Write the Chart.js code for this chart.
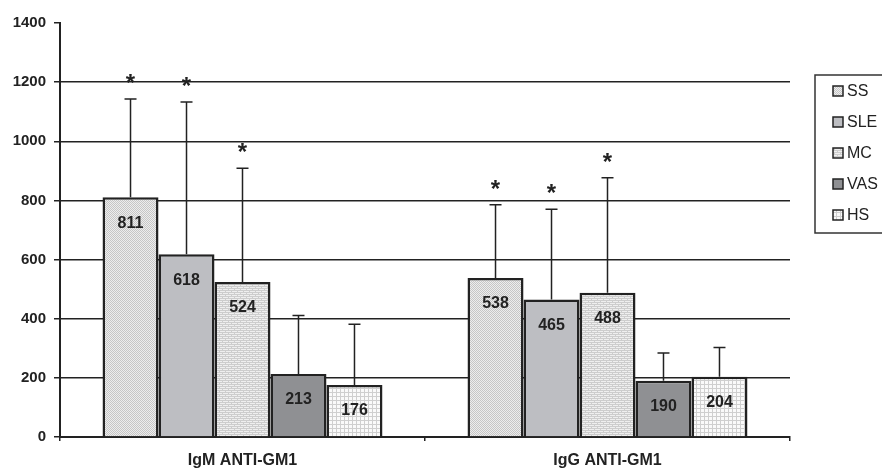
<!DOCTYPE html>
<html>
<head>
<meta charset="utf-8">
<script src="https://cdn.jsdelivr.net/npm/chart.js@4.4.1/dist/chart.umd.min.js"></script>
<style>
  html, body { margin: 0; padding: 0; background: #fff; }
  #wrap { width: 882px; height: 470px; }
</style>
</head>
<body>
<div id="wrap"><canvas id="chart" width="882" height="470"></canvas></div>
<script>
// ---- data ----
const categories = ['IgM ANTI-GM1', 'IgG ANTI-GM1'];
const seriesNames = ['SS', 'SLE', 'MC', 'VAS', 'HS'];

const ssValues  = [811, 538];
const sleValues = [618, 465];
const mcValues  = [524, 488];
const vasValues = [213, 190];
const hsValues  = [176, 204];

// upper error (SD) per series
const ssErr  = [332, 247];
const sleErr = [515, 305];
const mcErr  = [385, 389];
const vasErr = [198, 94];
const hsErr  = [205, 99];

// significance asterisk per series
const ssSig  = [true, true];
const sleSig = [true, true];
const mcSig  = [true, true];
const vasSig = [false, false];
const hsSig  = [false, false];

const yTicks = [0, 200, 400, 600, 800, 1000, 1200, 1400];

const INK = '#222';
const FONT = 'Arial, "Liberation Sans", sans-serif';

// fill patterns similar to the printed hatches
function makePattern(kind) {
  const c = document.createElement('canvas');
  const g = c.getContext('2d');
  if (kind === 'dots') {
    c.width = 2; c.height = 2;
    g.fillStyle = '#ededed'; g.fillRect(0, 0, 2, 2);
    g.fillStyle = '#c6c6c6'; g.fillRect(0, 0, 1, 1); g.fillRect(1, 1, 1, 1);
  } else if (kind === 'brick') {
    c.width = 6; c.height = 4;
    g.fillStyle = '#efefef'; g.fillRect(0, 0, 6, 4);
    g.fillStyle = '#cdcdcd';
    g.fillRect(0, 0, 6, 1); g.fillRect(0, 2, 6, 1);
    g.fillRect(0, 1, 1, 1); g.fillRect(3, 3, 1, 1);
  } else if (kind === 'grid') {
    c.width = 4; c.height = 4;
    g.fillStyle = '#fafafa'; g.fillRect(0, 0, 4, 4);
    g.fillStyle = '#cfcfcf';
    g.fillRect(0, 0, 4, 1); g.fillRect(0, 0, 1, 4);
  }
  return g.createPattern(c, 'repeat');
}

const fills = [makePattern('dots'), '#bdbec2', makePattern('brick'), '#8f9093', makePattern('grid')];
const valueSets = [ssValues, sleValues, mcValues, vasValues, hsValues];
const errSets = [ssErr, sleErr, mcErr, vasErr, hsErr];
const sigSets = [ssSig, sleSig, mcSig, vasSig, hsSig];

const datasets = seriesNames.map((name, i) => ({
  label: name,
  data: valueSets[i],
  err: errSets[i],
  sig: sigSets[i],
  backgroundColor: fills[i],
  borderColor: INK,
  borderWidth: 2.5,
  borderSkipped: 'bottom',
  categoryPercentage: 0.767,
  barPercentage: 1.0
}));

// error bars, asterisks, value labels and boxed legend
const decorPlugin = {
  id: 'decor',
  afterDatasetsDraw(chart) {
    const ctx = chart.ctx;
    const y = chart.scales.y;
    ctx.save();
    chart.data.datasets.forEach((ds, i) => {
      const meta = chart.getDatasetMeta(i);
      meta.data.forEach((bar, j) => {
        const v = ds.data[j];
        const top = y.getPixelForValue(v);
        const errTop = y.getPixelForValue(v + ds.err[j]);
        ctx.strokeStyle = INK;
        ctx.lineWidth = 1.5;
        ctx.beginPath();
        ctx.moveTo(bar.x, top);
        ctx.lineTo(bar.x, errTop);
        ctx.moveTo(bar.x - 6, errTop);
        ctx.lineTo(bar.x + 6, errTop);
        ctx.stroke();

        if (ds.sig[j]) {
          ctx.fillStyle = INK;
          ctx.font = 'bold 24px ' + FONT;
          ctx.textAlign = 'center';
          ctx.textBaseline = 'alphabetic';
          ctx.fillText('*', bar.x, errTop - 8);
        }

        ctx.fillStyle = INK;
        ctx.font = 'bold 16px ' + FONT;
        ctx.textAlign = 'center';
        ctx.textBaseline = 'middle';
        ctx.fillText(String(v), bar.x, top + 26);
      });
    });

    // legend box
    const lx = 815, ly = 75, lh = 158;
    ctx.fillStyle = '#fff';
    ctx.fillRect(lx, ly, 80, lh);
    ctx.strokeStyle = '#333';
    ctx.lineWidth = 1.5;
    ctx.strokeRect(lx, ly, 80, lh);
    chart.data.datasets.forEach((ds, i) => {
      const cy = 91 + i * 31;
      ctx.fillStyle = ds.backgroundColor;
      ctx.fillRect(833, cy - 5, 10, 10);
      ctx.strokeStyle = INK;
      ctx.lineWidth = 1.5;
      ctx.strokeRect(833, cy - 5, 10, 10);
      ctx.fillStyle = INK;
      ctx.font = '16px ' + FONT;
      ctx.textAlign = 'left';
      ctx.textBaseline = 'middle';
      ctx.fillText(ds.label, 847, cy + 1);
    });
    ctx.restore();
  }
};

new Chart(document.getElementById('chart'), {
  type: 'bar',
  data: { labels: categories, datasets: datasets },
  options: {
    responsive: false,
    animation: false,
    layout: { padding: { top: 23, right: 92, left: 0, bottom: 0 } },
    plugins: { legend: { display: false }, tooltip: { enabled: false } },
    scales: {
      x: {
        afterFit(s) { s.height = 33; },
        grid: { drawOnChartArea: false, offset: true, color: INK, tickLength: 4, lineWidth: 1.5 },
        border: { color: INK, width: 2 },
        ticks: { color: INK, font: { family: FONT, size: 16, weight: 'bold' }, padding: 10 }
      },
      y: {
        min: 0, max: 1400,
        afterFit(s) { s.width = 60; },
        afterBuildTicks(s) { s.ticks = yTicks.map(v => ({ value: v })); },
        grid: {
          color: ctx => (ctx.tick && ctx.tick.value === 1400 ? 'rgba(0,0,0,0)' : INK),
          tickColor: INK,
          tickLength: 6,
          lineWidth: 1.5
        },
        border: { color: INK, width: 2 },
        ticks: {
          color: INK,
          font: { family: FONT, size: 15, weight: 'bold' },
          padding: 8,
          callback: v => String(v)
        }
      }
    }
  },
  plugins: [decorPlugin]
});
</script>
</body>
</html>
